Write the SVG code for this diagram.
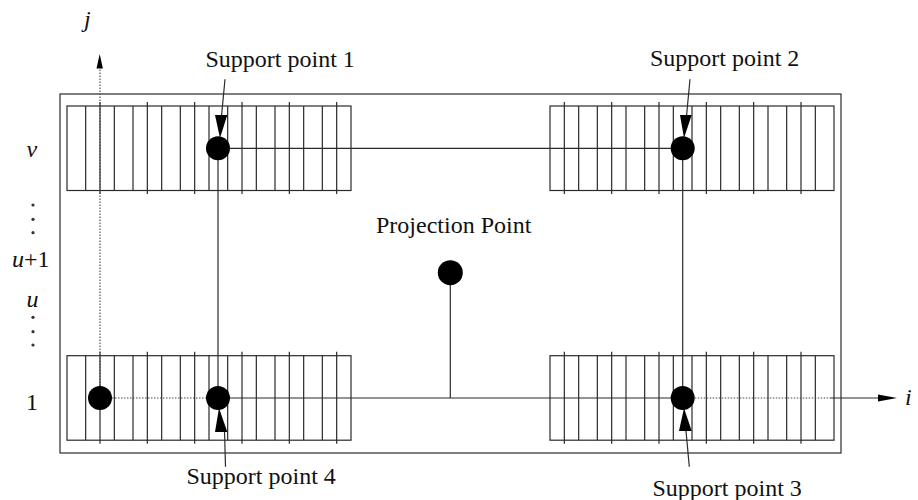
<svg xmlns="http://www.w3.org/2000/svg" xmlns:xlink="http://www.w3.org/1999/xlink" width="918" height="500" viewBox="0 0 918 500">
<style>
.ln{stroke:#2a2a2a;stroke-width:1.2;fill:none}
.dot{stroke:#444;stroke-width:1.1;stroke-dasharray:1.5 1.5;fill:none}
.pt{fill:#000}
.ah{fill:#000;stroke:none}
text{font-family:"Liberation Serif","Times New Roman",serif;font-size:24px;fill:#111}
.it{font-style:italic}
</style>
<defs>
<g id="padL" class="ln">
<rect x="0" y="0" width="284" height="84.5"/>
<path d="M33,-4V88M80.33,-4V88M127.67,-4V88M175,-4V88M222.33,-4V88M269.67,-4V88"/>
<path d="M18.67,0V84.5M47.33,0V84.5M66,0V84.5M94.67,0V84.5M113.33,0V84.5M142,0V84.5M160.67,0V84.5M189.33,0V84.5M208,0V84.5M236.67,0V84.5M255.33,0V84.5"/>
</g>
<g id="padR" class="ln">
<rect x="0" y="0" width="284" height="84.5"/>
<path d="M14.33,-4V88M61.67,-4V88M109,-4V88M156.33,-4V88M203.67,-4V88M251,-4V88"/>
<path d="M28.67,0V84.5M47.33,0V84.5M76,0V84.5M94.67,0V84.5M123.33,0V84.5M142,0V84.5M170.67,0V84.5M189.33,0V84.5M218,0V84.5M236.67,0V84.5M265.33,0V84.5"/>
</g>
</defs>
<g id="frame">
<rect class="ln" x="60" y="94" width="781" height="359"/>
</g>
<g id="pads">
<use xlink:href="#padL" x="67" y="106"/>
<use xlink:href="#padR" x="550" y="106"/>
<use xlink:href="#padL" x="67" y="355.7"/>
<use xlink:href="#padR" x="550" y="355.7"/>
</g>
<g id="connectors">
<path class="ln" d="M218,148.3H682.7"/>
<path class="ln" d="M218,148.3V398"/>
<path class="ln" d="M682.7,148.3V398"/>
<path class="ln" d="M218,398H682.7"/>
<path class="ln" d="M450.3,272.7V398"/>
<path class="dot" d="M100,398H218"/>
<path class="dot" d="M682.7,398H830"/>
<path class="ln" d="M830,398H880"/>
<polygon class="ah" points="897,398 878,394.6 878,401.4"/>
<path class="dot" d="M100,398V67"/>
<polygon class="ah" points="99.7,54 96.5,68.5 102.9,68.5"/>
<path class="ln" d="M225,79.3L221.5,116"/>
<polygon class="ah" points="215,115 227.3,115 220,138"/>
<path class="ln" d="M690,79.3L686.5,116"/>
<polygon class="ah" points="680,115 691.7,115 684,138"/>
<path class="ln" d="M224.5,431L225.5,466.7"/>
<polygon class="ah" points="215,432 227.3,432 219,408"/>
<path class="ln" d="M686,431L689.3,466.7"/>
<polygon class="ah" points="679,431 691.7,431 684,408"/>
</g>
<g id="origin"><circle class="pt" cx="100" cy="398" r="12"/></g>
<g id="support1"><circle class="pt" cx="218" cy="148.3" r="12"/><text x="205.5" y="66.5">Support point 1</text></g>
<g id="support2"><circle class="pt" cx="682.7" cy="148.3" r="12"/><text x="650" y="65.5">Support point 2</text></g>
<g id="support3"><circle class="pt" cx="682.7" cy="398" r="12"/><text x="652.5" y="495.5">Support point 3</text></g>
<g id="support4"><circle class="pt" cx="218" cy="398" r="12"/><text x="186.5" y="483.5">Support point 4</text></g>
<g id="projection"><circle class="pt" cx="450.3" cy="272.7" r="12.5"/><text x="376" y="233">Projection Point</text></g>
<g id="axis-labels">
<text class="it" x="84" y="27">j</text>
<text class="it" x="905" y="405">i</text>
<text class="it" x="26.5" y="157">v</text>
<text x="12" y="267"><tspan class="it">u</tspan>+1</text>
<text class="it" x="26.5" y="307">u</text>
<text x="26" y="410">1</text>
<g fill="#333">
<circle cx="33" cy="205" r="1.6"/><circle cx="33" cy="219.3" r="1.6"/><circle cx="33" cy="232.7" r="1.6"/>
<circle cx="33" cy="317.3" r="1.6"/><circle cx="33" cy="331.7" r="1.6"/><circle cx="33" cy="345" r="1.6"/>
</g>
</g>
</svg>
